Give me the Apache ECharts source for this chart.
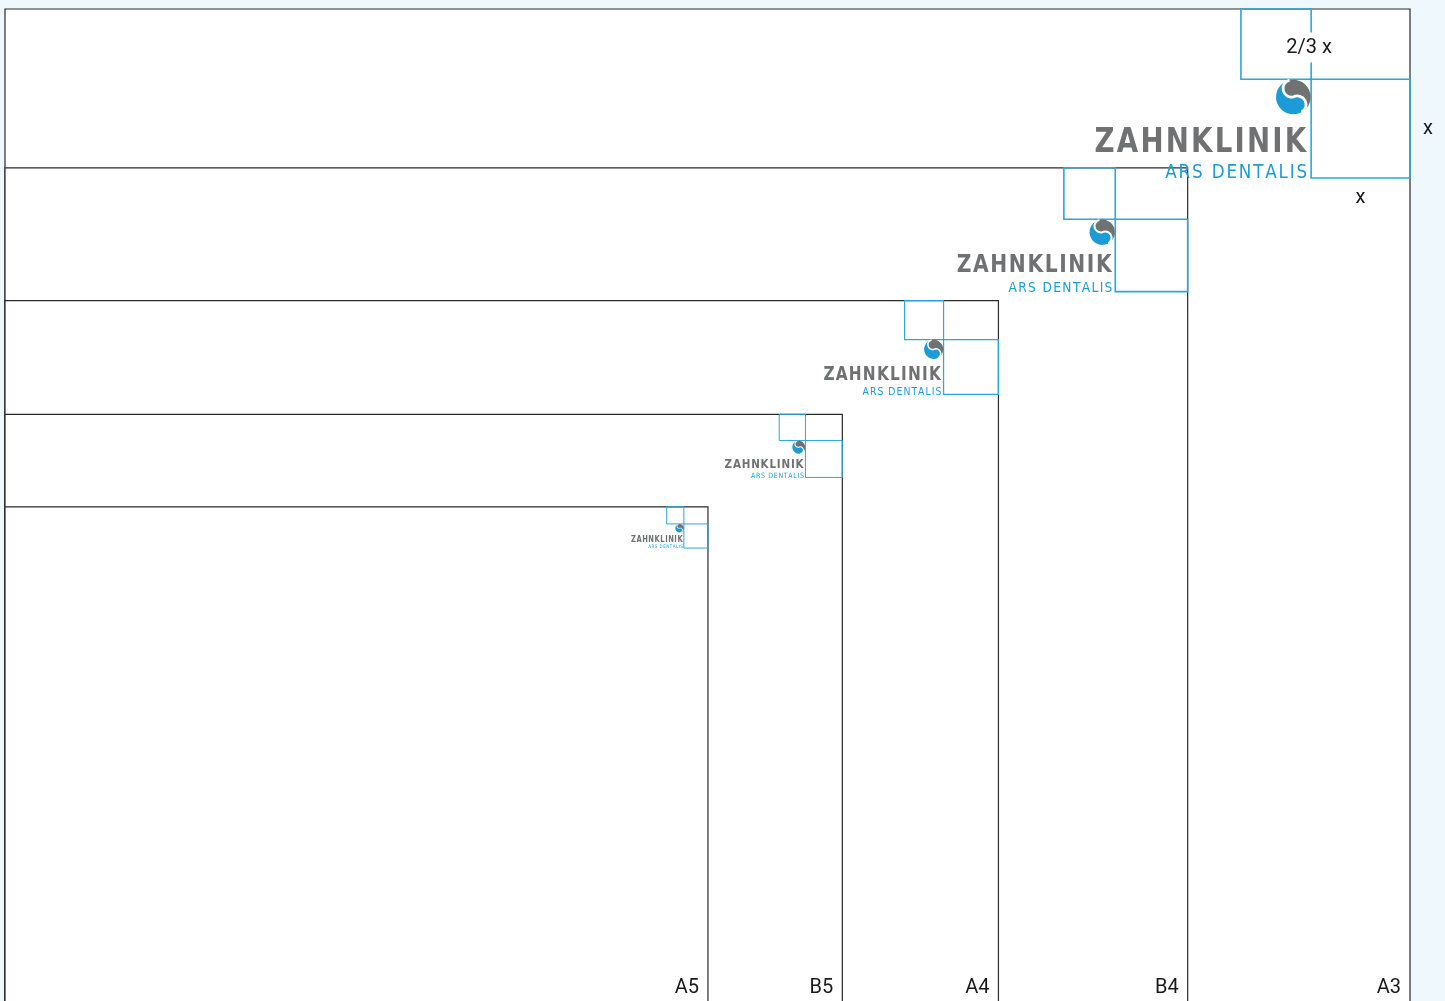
<!DOCTYPE html>
<html>
<head>
<meta charset="utf-8">
<script src="https://cdn.jsdelivr.net/npm/echarts@6/dist/echarts.min.js"></script>
<style>html,body{margin:0;padding:0;background:#eef8fd}#c{width:1445px;height:1001px}</style>
</head>
<body>
<div id="c"></div>
<script>
// Paper formats (mm, portrait: short side x long side)
const paperNames = ['A3', 'B4', 'A4', 'B5', 'A5'];
const paperWidths = [297, 250, 210, 177, 148.6];
const paperHeights = [420, 353, 297, 249, 210];
// logo module "x" for each format (mm)
const logoSizes = [20.9, 15.3, 11.6, 7.8, 5.1];
const logoTitle = 'ZAHNKLINIK';
const logoSub = 'ARS DENTALIS';
const dimLabels = ['2/3 x', 'x', 'x'];

const rows = paperNames.map((n, i) => [n, paperWidths[i], paperHeights[i], logoSizes[i]]);

const DARK = '#2b2b2b';
const BLUE = '#2ba6de';
const GRAY = '#707173';
const LOGOBLUE = '#1c9bd7';

const mctx = document.createElement('canvas').getContext('2d');

function spacedText(str, rightX, cy, fontSize, weight, scaleX, targetW, color, strokeW) {
  const font = weight + ' ' + fontSize.toFixed(2) + 'px "DejaVu Sans", sans-serif';
  mctx.font = font;
  const chars = Array.from(str);
  const ws = chars.map(ch => mctx.measureText(ch).width * scaleX);
  const sum = ws.reduce((a, b) => a + b, 0);
  const gap = (targetW - sum) / (chars.length - 1);
  let x = rightX - targetW;
  return chars.map((ch, i) => {
    const el = {
      type: 'text', x: x, y: cy, scaleX: scaleX, scaleY: 1,
      style: { text: ch, x: 0, y: 0, align: 'left', verticalAlign: 'middle', font: font,
        fill: color, stroke: strokeW ? color : null, lineWidth: strokeW || 0 }
    };
    x += ws[i] + gap;
    return el;
  });
}

function iconPaths(cx, cy, r, a1, a2) {
  const f = v => v.toFixed(2);
  const t1 = a1 * Math.PI / 180, t2 = a2 * Math.PI / 180;
  const p1 = f(cx + r * Math.cos(t1)) + ',' + f(cy + r * Math.sin(t1));
  const p2 = f(cx + r * Math.cos(t2)) + ',' + f(cy + r * Math.sin(t2));
  const c = f(cx) + ',' + f(cy);
  const h = f(r / 2), R = f(r);
  return {
    gray: `M${p1} A${R},${R} 0 0 1 ${p2} A${h},${h} 0 0 0 ${c} A${h},${h} 0 0 1 ${p1} Z`,
    blue: `M${p1} A${R},${R} 0 1 0 ${p2} A${h},${h} 0 0 0 ${c} A${h},${h} 0 0 1 ${p1} Z`,
    s: `M${p1} A${h},${h} 0 0 0 ${c} A${h},${h} 0 0 1 ${p2}`
  };
}

function renderPaper(params, api) {
  const w = api.value(1), h = api.value(2);
  const tl = api.coord([0, h]);
  const br = api.coord([w, 0]);
  const H = api.getHeight();
  return {
    type: 'group',
    children: [
      { type: 'rect', shape: { x: tl[0], y: tl[1], width: br[0] - tl[0], height: H + 20 - tl[1] },
        style: { fill: '#ffffff', stroke: DARK, lineWidth: 1.2 } },
      { type: 'text', style: { text: paperNames[params.dataIndex], x: br[0] - 9, y: H - 13,
        align: 'right', verticalAlign: 'middle', fill: '#1a1a1a',
        font: '20px Roboto, "Liberation Sans", sans-serif' } }
    ]
  };
}

function renderLogo(params, api) {
  const w = api.value(1), h = api.value(2), s = api.value(3);
  const tr = api.coord([w, h]);
  const k = api.size([1, 0])[0];
  const X = s * k;
  const sm = X * 0.71;
  const L = tr[0] - X;
  const T = tr[1] + sm;
  const r = 0.175 * X;
  const cx = L - 0.18 * X, cy = T + 0.18 * X;
  const ip = iconPaths(cx, cy, r, -103, 62);
  const lw = Math.max(1, Math.min(1.6, X / 45));
  const children = [
    { type: 'rect', shape: { x: L - sm, y: tr[1], width: sm, height: sm },
      style: { fill: null, stroke: BLUE, lineWidth: lw } },
    { type: 'rect', shape: { x: L, y: T, width: X, height: X },
      style: { fill: null, stroke: BLUE, lineWidth: lw } },
    { type: 'path', shape: { pathData: ip.blue }, style: { fill: LOGOBLUE } },
    { type: 'path', shape: { pathData: ip.gray }, style: { fill: GRAY } },
    { type: 'path', shape: { pathData: ip.s }, style: { fill: null, stroke: '#ffffff', lineWidth: Math.max(0.6, r * 0.16) } }
  ];
  spacedText(logoTitle, L - 0.05 * X, T + 0.645 * X, 0.35 * X, 'bold', 0.8, 2.14 * X, GRAY, 0)
    .forEach(e => children.push(e));
  spacedText(logoSub, L - 0.04 * X, T + 0.95 * X, 0.2 * X, 'normal', 0.85, 1.435 * X, LOGOBLUE, 0)
    .forEach(e => children.push(e));
  if (params.dataIndex === 0) {
    const df = '20px Roboto, "Liberation Sans", sans-serif';
    children.push(
      { type: 'text', style: { text: dimLabels[0], x: L - 2, y: tr[1] + sm * 0.55,
        align: 'center', verticalAlign: 'middle', fill: '#1a1a1a', font: df,
        backgroundColor: '#ffffff', padding: [5, 2] } },
      { type: 'text', style: { text: dimLabels[1], x: tr[0] + 18, y: T + X / 2,
        align: 'center', verticalAlign: 'middle', fill: '#1a1a1a', font: df } },
      { type: 'text', style: { text: dimLabels[2], x: L + X / 2, y: T + X + 20,
        align: 'center', verticalAlign: 'middle', fill: '#1a1a1a', font: df } }
    );
  }
  return { type: 'group', children };
}

const chart = echarts.init(document.getElementById('c'));
chart.setOption({
  backgroundColor: '#eef8fd',
  animation: false,
  grid: { left: 5, right: 35, top: 9, bottom: 0 },
  xAxis: { type: 'value', min: 0, max: 297, show: false },
  yAxis: { type: 'value', min: 1.5, max: 420, show: false },
  series: [
    { type: 'custom', renderItem: renderPaper, data: rows, z: 1, clip: false },
    { type: 'custom', renderItem: renderLogo, data: rows, z: 2, clip: false }
  ]
});
</script>
</body>
</html>
